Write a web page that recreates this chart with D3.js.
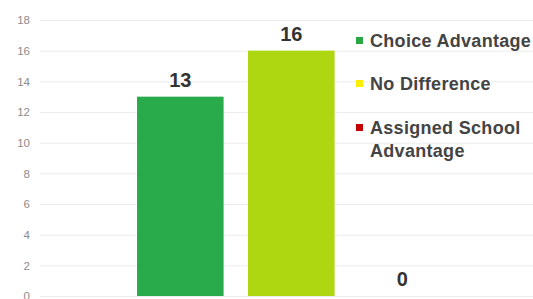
<!DOCTYPE html>
<meta charset="utf-8">
<title>Choice vs Assigned School</title>
<style>
  body { margin: 0; background: white; font-family: Arial, "Liberation Sans", sans-serif; }
  svg { display: block; }
  .tick text { fill: #8c8c8c; font-size: 11.5px; }
</style>
<body>
<div id="chart"></div>
<script src="https://d3js.org/d3.v7.min.js"></script>
<script>
// data
var categories = ["Choice Advantage", "No Difference", "Assigned School Advantage"];
var counts = [13, 16, 0];
var barColors = ["#2aab4b", "#afd711", "#c00000"];
var legendColors = ["#27a844", "#ffee00", "#c40000"];
var legendLines = [["Choice Advantage"], ["No Difference"], ["Assigned School", "Advantage"]];
var yTicks = [0, 2, 4, 6, 8, 10, 12, 14, 16, 18];

var width = 533, height = 299;

var svg = d3.select("#chart").append("svg")
    .attr("width", width)
    .attr("height", height);

var y = d3.scaleLinear().domain([0, 18]).range([296, 20]);

var x = d3.scaleBand()
    .domain(categories)
    .range([112.6, 470])
    .paddingInner(0.22)
    .paddingOuter(0.22);

// grid lines
svg.append("g")
  .selectAll("line")
  .data(yTicks)
  .enter().append("line")
    .attr("x1", 40)
    .attr("x2", width)
    .attr("y1", function(d) { return y(d) + 0.5; })
    .attr("y2", function(d) { return y(d) + 0.5; })
    .attr("stroke", "#ececec")
    .attr("stroke-width", 1);

// y axis labels
var yAxis = svg.append("g")
    .attr("transform", "translate(30,0)")
    .call(d3.axisLeft(y).tickValues(yTicks).tickSize(0).tickPadding(0));
yAxis.select(".domain").remove();

// bars
svg.append("g")
  .selectAll("rect")
  .data(counts)
  .enter().append("rect")
    .attr("x", function(d, i) { return x(categories[i]); })
    .attr("y", function(d) { return y(d); })
    .attr("width", x.bandwidth())
    .attr("height", function(d) { return y(0) - y(d); })
    .attr("fill", function(d, i) { return barColors[i]; });

// value labels
svg.append("g")
  .selectAll("text")
  .data(counts)
  .enter().append("text")
    .attr("x", function(d, i) { return x(categories[i]) + x.bandwidth() / 2; })
    .attr("y", function(d) { return y(d) - 10; })
    .attr("text-anchor", "middle")
    .attr("fill", "#333")
    .style("font-size", "20px")
    .style("font-weight", "bold")
    .text(function(d) { return d; });

// legend
var legendY = [41, 84, 128];
var legend = svg.append("g");
legendLines.forEach(function(lines, i) {
  legend.append("rect")
    .attr("x", 356)
    .attr("y", legendY[i] - 4)
    .attr("width", 7)
    .attr("height", 7)
    .attr("fill", legendColors[i]);
  var t = legend.append("text")
    .attr("y", legendY[i])
    .attr("fill", "#444")
    .style("font-size", "18px")
    .style("letter-spacing", "0.3px")
    .style("font-weight", "bold");
  lines.forEach(function(l, j) {
    t.append("tspan")
      .attr("x", 370)
      .attr("dy", j == 0 ? "0.35em" : "1.25em")
      .text(l);
  });
});
</script>
</body>
